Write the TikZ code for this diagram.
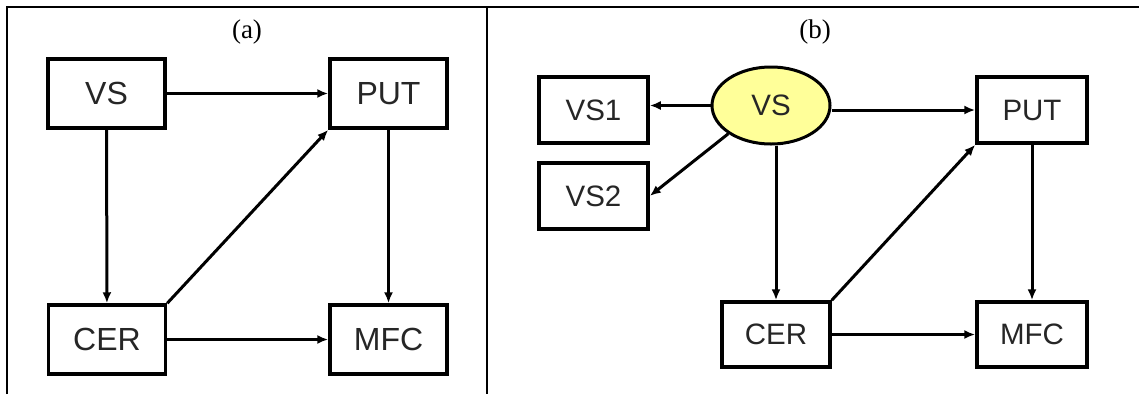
\documentclass[tikz,border=0pt]{standalone}
\usepackage{fontspec}
\setmainfont{Liberation Serif}
\newfontfamily\boxfont{Liberation Sans}
\newfontfamily\labfont{Liberation Serif}
\usetikzlibrary{arrows.meta,shapes.geometric}
\definecolor{vsfill}{RGB}{255,255,153}
\tikzset{
  frameline/.style={line width=2pt,black},
  boxA/.style={draw,line width=3.5pt,minimum width=117pt,minimum height=69pt,
    inner sep=0pt,font=\boxfont\fontsize{32}{36}\selectfont,text=black!85},
  boxB/.style={draw,line width=3.5pt,minimum width=109pt,minimum height=66pt,
    inner sep=0pt,font=\boxfont\fontsize{29.5}{34}\selectfont,text=black!85},
  latent/.style={ellipse,draw,line width=3pt,fill=vsfill,minimum width=118pt,
    minimum height=77pt,inner sep=0pt,font=\boxfont\fontsize{29.5}{34}\selectfont,text=black!85},
  arr/.style={line width=3pt,-{Latex[length=11pt,width=9pt]}},
  panellabel/.style={inner sep=0pt,font=\labfont\fontsize{27}{30}\selectfont}
}
\begin{document}
\begin{tikzpicture}[x=1pt,y=-1pt]
\useasboundingbox (0,0) rectangle (1139,394);
% frame
\draw[frameline] (7,394) -- (7,7) -- (1139,7);
\draw[frameline] (487,7) -- (487,394);
\node[panellabel] (la) at (247,32) {(a)};
\node[panellabel] (lb) at (815,32) {(b)};

% panel (a)
\node[boxA] (vsa)  at (106.5,93.5) {VS};
\node[boxA] (puta) at (388.5,93.5) {PUT};
\node[boxA] (cera) at (107,339.5) {CER};
\node[boxA] (mfca) at (388.5,339.5) {MFC};
\draw[arr] (vsa) -- (puta);
\draw[arr] (vsa) -- (cera);
\draw[arr] (puta) -- (mfca);
\draw[arr] (cera) -- (mfca);
\draw[arr] (cera.north east) -- (puta.south west);

% panel (b)
\node[latent] (vsb) at (771,105.5) {VS};
\node[boxB] (vs1) at (593.5,110) {VS1};
\node[boxB] (vs2) at (593.5,196) {VS2};
\node[boxB,minimum width=110pt] (putb) at (1032,110) {PUT};
\node[boxB,minimum width=108pt,minimum height=65pt] (cerb) at (776,334.5) {CER};
\node[boxB,minimum width=110pt,minimum height=65pt] (mfcb) at (1032,334.5) {MFC};
\draw[arr] (vsb.west) -- (vs1.east |- vsb.west);
\draw[arr] (vsb.south west) -- (vs2.east);
\draw[arr] (vsb.east |- putb.west) -- (putb.west);
\draw[arr] (cerb.north |- vsb.south) -- (cerb.north);
\draw[arr] (putb) -- (mfcb);
\draw[arr] (cerb) -- (mfcb);
\draw[arr] (cerb.north east) -- (putb.south west);
\end{tikzpicture}
\end{document}
